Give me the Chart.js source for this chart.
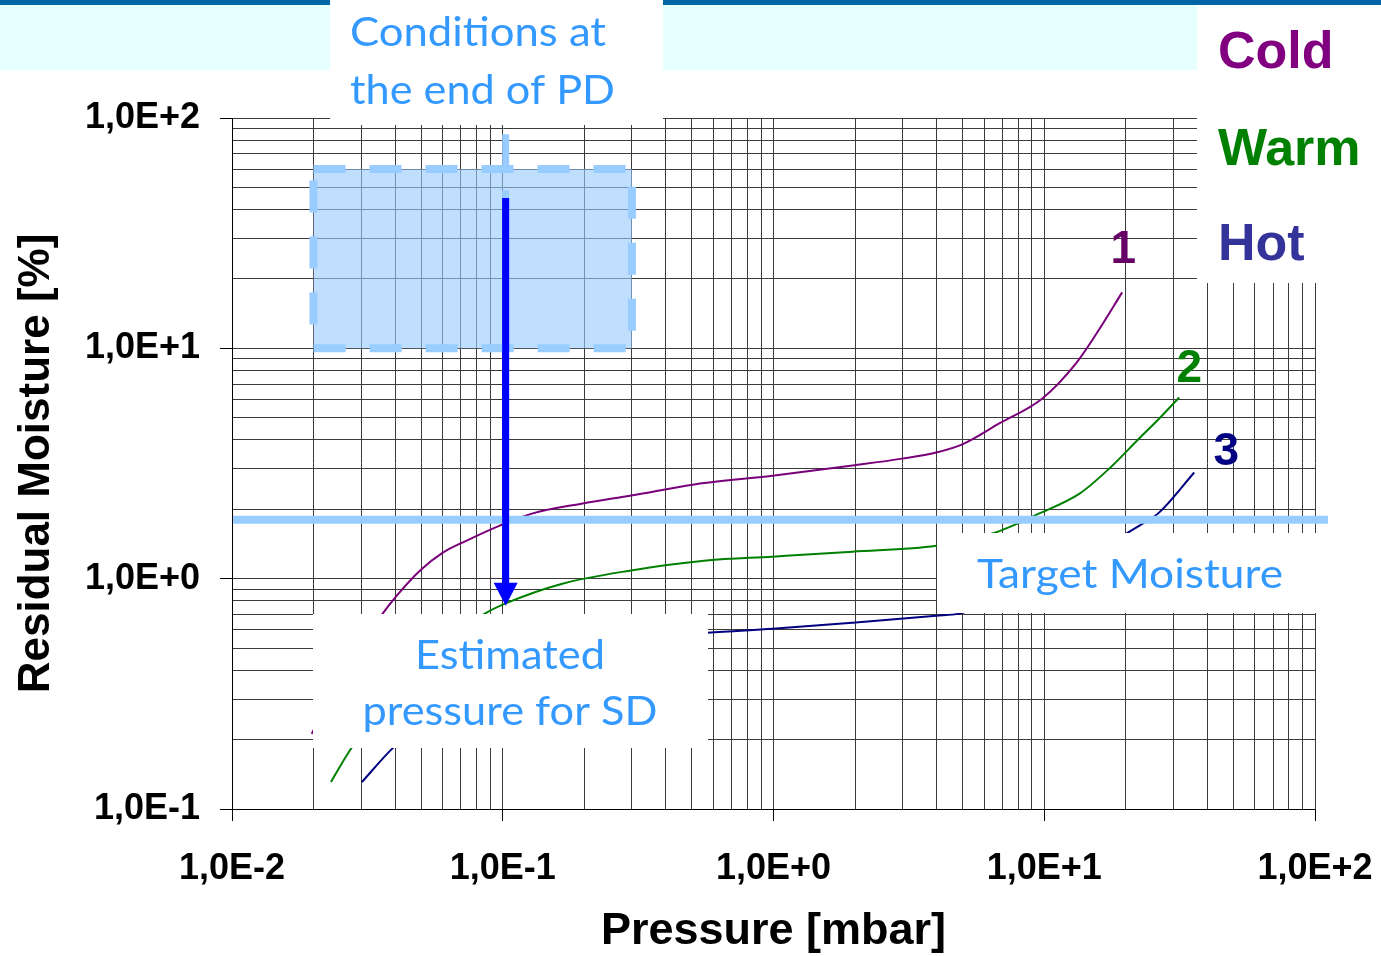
<!DOCTYPE html>
<html>
<head>
<meta charset="utf-8">
<script src="https://cdn.jsdelivr.net/npm/chart.js@4.4.1/dist/chart.umd.min.js"></script>
<style>
    body { margin: 0; background: #fff; }
    .canvas-hold { position: relative; width: 1381px; height: 956px; }
</style>
</head>
<body>
<div class="canvas-hold"><canvas id="chart"></canvas></div>
<script>
// pressure [mbar] and residual moisture [%]
const coldPressure = [0.0197, 0.0261, 0.036, 0.0406, 0.0494, 0.0601, 0.0736, 0.0975, 0.129, 0.197, 0.302, 0.503, 0.991, 1.96, 2.99, 3.99, 4.98, 6.82, 9.84, 13.1, 15.6, 19.4];
const coldMoisture = [0.212, 0.406, 0.705, 0.844, 1.083, 1.297, 1.463, 1.70, 1.92, 2.12, 2.30, 2.56, 2.80, 3.10, 3.32, 3.53, 3.83, 4.72, 6.06, 8.61, 11.6, 17.5];
const warmPressure = [0.0232, 0.0272, 0.04, 0.06, 0.0859, 0.102, 0.166, 0.294, 0.566, 0.991, 1.96, 3.99, 6.43, 9.59, 13.5, 17.4, 22.4, 26.6, 31.5];
const warmMoisture = [0.131, 0.179, 0.33, 0.52, 0.705, 0.779, 0.951, 1.083, 1.198, 1.246, 1.31, 1.39, 1.57, 1.92, 2.34, 3.01, 4.06, 4.96, 6.12];
const hotPressure = [0.0302, 0.0389, 0.07, 0.15, 0.3, 0.571, 0.991, 1.96, 3.99, 4.85, 8, 12, 16, 20.1, 23.0, 26.6, 35.8];
const hotMoisture = [0.131, 0.182, 0.33, 0.46, 0.54, 0.582, 0.606, 0.644, 0.690, 0.705, 0.85, 1.05, 1.3, 1.57, 1.73, 1.94, 2.89];

const seriesNames = ['Cold', 'Warm', 'Hot'];
const curveNumbers = ['1', '2', '3'];
// where the curve numbers sit (pressure, moisture at text baseline)
const numberPressure = [19.6, 34.3, 47];
const numberMoisture = [23.4, 7.12, 3.10];

// annotations
const targetMoisture = 1.8;
const pdPressure = [0.02, 0.3];
const pdMoisture = [10, 60];
const sdPressure = 0.1025;
const sdDashFrom = 85, sdArrowFrom = 44.9, sdArrowTo = 0.763;

const xMajor = [0.01, 0.1, 1, 10, 100];
const xMajorLabels = ['1,0E-2', '1,0E-1', '1,0E+0', '1,0E+1', '1,0E+2'];
const yMajor = [0.1, 1, 10, 100];
const yMajorLabels = ['1,0E-1', '1,0E+0', '1,0E+1', '1,0E+2'];

const lineColors = ['#7a007a', '#008000', '#000080'];
const numberColors = ['#660066', '#008000', '#000080'];
const nameColors = ['#800080', '#008000', '#333399'];
const noteBlue = '#3399ff';

function logTicks(majors){
    let out = [];
    for(let i = 0; i < majors.length - 1; i++){
        for(let m = 1; m <= 9; m++) out.push(m * majors[i]);
    }
    out.push(majors[majors.length - 1]);
    return out;
}
function majorIndex(v, majors){
    return majors.findIndex(m => Math.abs(v / m - 1) < 1e-6);
}
function pairs(xs, ys){
    return xs.map((x, i) => ({x: x, y: ys[i]}));
}

function fitText(c, str, x, y, w, align){
    let natural = c.measureText(str).width;
    c.save();
    c.translate(x, y);
    c.scale(w / natural, 1);
    c.textAlign = align;
    c.fillText(str, 0, 0);
    c.restore();
}

const overlay = {
    id: 'overlay',
    beforeDraw(chart){
        const c = chart.ctx;
        c.save();
        c.fillStyle = '#fff';
        c.fillRect(0, 0, chart.width, chart.height);
        c.fillStyle = '#e6ffff';
        c.fillRect(0, 5, chart.width, 65);
        c.fillStyle = '#0066a6';
        c.fillRect(0, 0, chart.width, 5);
        c.restore();
    },
    beforeDatasetsDraw(chart){
        const c = chart.ctx, xs = chart.scales.x, ys = chart.scales.y;
        let x1 = xs.getPixelForValue(pdPressure[0]), x2 = xs.getPixelForValue(pdPressure[1]);
        let y1 = ys.getPixelForValue(pdMoisture[1]), y2 = ys.getPixelForValue(pdMoisture[0]);
        c.save();
        c.fillStyle = 'rgba(153,204,255,0.62)';
        c.fillRect(x1, y1, x2 - x1, y2 - y1);
        c.strokeStyle = '#99ccff';
        c.lineWidth = 8;
        c.setLineDash([32, 24]);
        c.strokeRect(x1, y1, x2 - x1, y2 - y1);
        c.restore();
    },
    afterDatasetsDraw(chart){
        const c = chart.ctx, xs = chart.scales.x, ys = chart.scales.y, area = chart.chartArea;
        c.save();

        // target moisture line
        let ty = ys.getPixelForValue(targetMoisture);
        c.strokeStyle = '#99ccff';
        c.lineWidth = 8;
        c.beginPath();
        c.moveTo(area.left + 1, ty);
        c.lineTo(area.right + 13, ty);
        c.stroke();

        // white text boxes
        c.fillStyle = '#fff';
        c.fillRect(330, 0, 333, 125);
        c.fillRect(1197, 5, 184, 278);
        c.fillRect(313, 614, 395, 134);
        c.fillRect(937, 533, 393, 80);

        // note texts
        c.fillStyle = noteBlue;
        c.font = '41px Lato, "Open Sans", sans-serif';
        c.textBaseline = 'alphabetic';
        fitText(c, 'Conditions at', 350, 46, 256, 'left');
        fitText(c, 'the end of PD', 350, 104, 265, 'left');
        fitText(c, 'Estimated', 510, 669, 190, 'center');
        fitText(c, 'pressure for SD', 510, 725, 295, 'center');
        fitText(c, 'Target Moisture', 1130, 588, 306, 'center');

        // dashed guide and arrow down to the estimated pressure
        let sx = xs.getPixelForValue(sdPressure);
        let yA = ys.getPixelForValue(sdDashFrom), yB = ys.getPixelForValue(sdArrowFrom), yTip = ys.getPixelForValue(sdArrowTo);
        c.strokeStyle = '#99ccff';
        c.lineWidth = 7;
        c.setLineDash([32, 24]);
        c.beginPath();
        c.moveTo(sx, yA);
        c.lineTo(sx, yB);
        c.stroke();
        c.setLineDash([]);
        c.strokeStyle = '#0000ff';
        c.beginPath();
        c.moveTo(sx, yB);
        c.lineTo(sx, yTip - 20);
        c.stroke();
        c.fillStyle = '#0000ff';
        c.beginPath();
        c.moveTo(sx - 12, yTip - 23);
        c.lineTo(sx + 12, yTip - 23);
        c.lineTo(sx, yTip);
        c.closePath();
        c.fill();

        // curve numbers
        c.font = 'bold 46px "Liberation Sans", Arial, sans-serif';
        c.textAlign = 'center';
        curveNumbers.forEach((n, i) => {
            c.fillStyle = numberColors[i];
            c.fillText(n, xs.getPixelForValue(numberPressure[i]), ys.getPixelForValue(numberMoisture[i]));
        });

        // series names
        c.font = 'bold 52px "Liberation Sans", Arial, sans-serif';
        c.textAlign = 'left';
        [68, 165, 260].forEach((by, i) => {
            c.fillStyle = nameColors[i];
            c.fillText(seriesNames[i], 1218, by);
        });
        c.restore();
    }
};

const tickFont = {family: '"Liberation Sans", Arial, sans-serif', size: 36, weight: 'bold'};
const titleFont = {family: '"Liberation Sans", Arial, sans-serif', weight: 'bold', lineHeight: 1};

let chart = new Chart(document.getElementById('chart').getContext('2d'), {
    type: 'line',
    data: {
        datasets: [
            {label: seriesNames[0], data: pairs(coldPressure, coldMoisture), borderColor: lineColors[0]},
            {label: seriesNames[1], data: pairs(warmPressure, warmMoisture), borderColor: lineColors[1]},
            {label: seriesNames[2], data: pairs(hotPressure, hotMoisture), borderColor: lineColors[2]}
        ]
    },
    options: {
        responsive: true,
        maintainAspectRatio: false,
        animation: false,
        datasets: {
            line: {borderWidth: 2, pointRadius: 0, fill: false, cubicInterpolationMode: 'monotone'}
        },
        layout: {padding: {top: 118, right: 66, left: 0, bottom: 0}},
        plugins: {legend: {display: false}, tooltip: {enabled: false}},
        scales: {
            x: {
                type: 'logarithmic',
                min: 0.01,
                max: 100,
                afterBuildTicks: axis => { axis.ticks = logTicks(xMajor).map(v => ({value: v})); },
                afterFit: axis => { axis.height = 147; axis.paddingLeft = 0; axis.paddingRight = 0; },
                ticks: {
                    autoSkip: false,
                    maxRotation: 0,
                    padding: 26,
                    color: '#000',
                    font: tickFont,
                    callback: v => { let i = majorIndex(v, xMajor); return i < 0 ? '' : xMajorLabels[i]; }
                },
                grid: {
                    color: '#3a3a3a',
                    lineWidth: 1,
                    tickLength: 12,
                    tickColor: ctx => majorIndex(ctx.tick.value, xMajor) < 0 ? 'rgba(0,0,0,0)' : '#000'
                },
                border: {color: '#000', width: 1},
                title: {display: true, text: 'Pressure [mbar]', color: '#000', font: Object.assign({size: 45}, titleFont), padding: {top: 0, bottom: 2}}
            },
            y: {
                type: 'logarithmic',
                min: 0.1,
                max: 100,
                afterBuildTicks: axis => { axis.ticks = logTicks(yMajor).map(v => ({value: v})); },
                afterFit: axis => { axis.width = 232; axis.paddingTop = 0; axis.paddingBottom = 0; },
                ticks: {
                    autoSkip: false,
                    padding: 20,
                    color: '#000',
                    font: tickFont,
                    callback: v => { let i = majorIndex(v, yMajor); return i < 0 ? '' : yMajorLabels[i]; }
                },
                grid: {
                    color: '#3a3a3a',
                    lineWidth: 1,
                    tickLength: 12,
                    tickColor: ctx => majorIndex(ctx.tick.value, yMajor) < 0 ? 'rgba(0,0,0,0)' : '#000'
                },
                border: {color: '#000', width: 1},
                title: {display: true, text: 'Residual Moisture [%]', color: '#000', font: Object.assign({size: 44}, titleFont), padding: {top: 15, bottom: 0}}
            }
        }
    },
    plugins: [overlay]
});
</script>
</body>
</html>
